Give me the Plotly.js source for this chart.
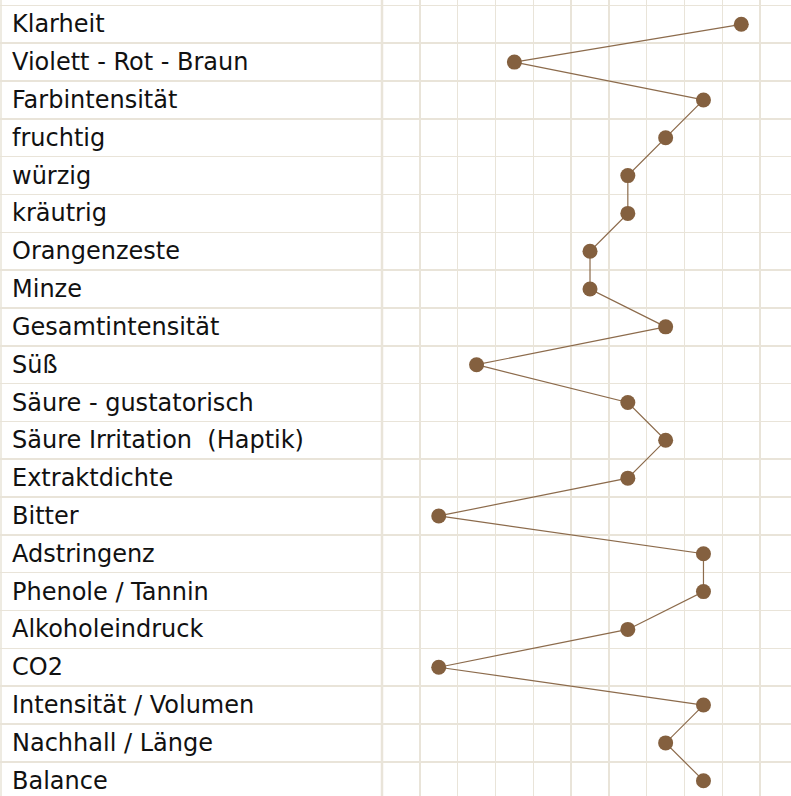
<!DOCTYPE html>
<html>
<head>
<meta charset="utf-8">
<script src="https://cdn.plot.ly/plotly-3.0.1.min.js"></script>
<style>html,body{margin:0;padding:0;background:#fff;}#chart{width:791px;height:796px;}</style>
</head>
<body>
<div id="chart"></div>
<script>
const categories = [
  "Klarheit",
  "Violett - Rot - Braun",
  "Farbintensität",
  "fruchtig",
  "würzig",
  "kräutrig",
  "Orangenzeste",
  "Minze",
  "Gesamtintensität",
  "Süß",
  "Säure - gustatorisch",
  "Säure Irritation  (Haptik)",
  "Extraktdichte",
  "Bitter",
  "Adstringenz",
  "Phenole / Tannin",
  "Alkoholeindruck",
  "CO2",
  "Intensität / Volumen",
  "Nachhall / Länge",
  "Balance"
];
const scores = [10, 4, 9, 8, 7, 7, 6, 6, 8, 3, 7, 8, 7, 2, 9, 9, 7, 2, 9, 8, 9];

const W = 791, H = 796;
const gridColor = '#e9e4d9';
const splitPx = 382;
const split = splitPx / W;
const colPx = 37.82;
const xMin = 0.5, xMax = 0.5 + (W - splitPx) / colPx;
const rowPx = 37.82, firstRowPx = 24.3;
const yTop = -firstRowPx / rowPx;
const yBottom = (H - firstRowPx) / rowPx;

const trace = {
  type: 'scatter',
  mode: 'lines+markers',
  x: scores,
  y: categories,
  xaxis: 'x2',
  yaxis: 'y2',
  line: {color: '#8c6b4c', width: 1.2},
  marker: {color: '#84603f', size: 15},
  hoverinfo: 'x+y',
  showlegend: false
};
// invisible trace to create the label column subplot
const dummy = {
  type: 'scatter', mode: 'markers', x: categories.map(() => 0.5), y: categories,
  xaxis: 'x', yaxis: 'y', marker: {opacity: 0}, hoverinfo: 'skip', showlegend: false
};

const yCommon = {
  type: 'category',
  categoryorder: 'array',
  categoryarray: categories,
  range: [yBottom, yTop],
  autorange: false,
  tickson: 'boundaries',
  showgrid: true,
  gridcolor: gridColor,
  gridwidth: 1.5,
  showticklabels: false,
  ticks: '',
  zeroline: false,
  showline: false
};

const annotations = categories.map(c => ({
  xref: 'paper', yref: 'y', x: 10 / W, y: c,
  xanchor: 'left', yanchor: 'middle',
  text: c, showarrow: false,
  font: {family: 'DejaVu Sans', size: 24, color: '#111'}
}));

const layout = {
  width: W, height: H,
  margin: {l: 0, r: 0, t: 0, b: 0, pad: 0},
  paper_bgcolor: '#ffffff',
  plot_bgcolor: '#ffffff',
  showlegend: false,
  xaxis: {domain: [0, split], range: [0, 1], showgrid: false, zeroline: false, showticklabels: false, ticks: '', anchor: 'y'},
  yaxis: Object.assign({}, yCommon, {anchor: 'x'}),
  xaxis2: {domain: [split, 1], range: [xMin, xMax], tick0: 0.5, dtick: 1, showgrid: true, gridcolor: gridColor, gridwidth: 1.5,
           zeroline: false, showticklabels: false, ticks: '', anchor: 'y2'},
  yaxis2: Object.assign({}, yCommon, {anchor: 'x2', matches: 'y'}),
  annotations: annotations,
  shapes: [
    {type: 'line', xref: 'paper', yref: 'paper', x0: 1 / W, x1: 1 / W, y0: 0, y1: 1, line: {color: gridColor, width: 1.5}, layer: 'below'},
    {type: 'line', xref: 'paper', yref: 'paper', x0: split, x1: split, y0: 0, y1: 1, line: {color: gridColor, width: 2.5}, layer: 'below'}
  ]
};

Plotly.newPlot('chart', [dummy, trace], layout, {displayModeBar: false, staticPlot: true});
</script>
</body>
</html>
